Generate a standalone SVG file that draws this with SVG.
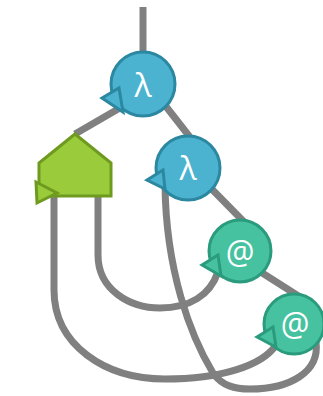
<svg xmlns="http://www.w3.org/2000/svg" width="323" height="396" viewBox="0 0 323 396">
<style>
.e{fill:none;stroke:#808080;stroke-width:7}
.lam circle,.lam polygon{fill:#4bb3cf;stroke:#2c88a1;stroke-width:3}
.app circle,.app polygon{fill:#47c2a1;stroke:#2b9b7d;stroke-width:3}
.ab polygon{fill:#9acb3a;stroke:#6e9a1f;stroke-width:3;stroke-linejoin:miter}
text{fill:#fff;font-family:"Open Sans","DejaVu Sans",sans-serif;font-size:32px;text-anchor:middle;dominant-baseline:central}
</style>
<g id="connectors">
<line class="e" x1="143" y1="7" x2="143" y2="60"/>
<line class="e" x1="125" y1="105" x2="75" y2="134"/>
<line class="e" x1="150" y1="86" x2="200" y2="150"/>
<line class="e" x1="195" y1="172" x2="250" y2="228"/>
<line class="e" x1="245" y1="262" x2="300" y2="297"/>
<path class="e" d="M98 192 L98 255 C98 290 130 308 160 308 C190 308 210 295 218 272"/>
<path class="e" d="M54 192 L54 290 C54 345 105 379 165 379 C220 379 262 366 276 345"/>
<path class="e" d="M165 185 C166 270 190 335 213 373 C222 386 235 389 250 389 C290 389 320 372 316 342"/>
</g>
<g id="node-abs" class="ab">
<polygon points="75,134 39,163 39,196 111,196 111,163"/>
<polygon points="36,182 57,193 37,203"/>
</g>
<g id="node-lam1" class="lam">
<circle cx="143" cy="84" r="32"/>
<polygon points="102,98 119,88 123,112"/>
<text x="143" y="84">λ</text>
</g>
<g id="node-lam2" class="lam">
<circle cx="188" cy="168" r="32"/>
<polygon points="147,180 163,170 165,189"/>
<text x="188" y="167">λ</text>
</g>
<g id="node-app1" class="app">
<circle cx="240" cy="251" r="31"/>
<polygon points="202,265 218,255 221,276"/>
<text x="240" y="251">@</text>
</g>
<g id="node-app2" class="app">
<circle cx="294" cy="324" r="30"/>
<polygon points="257,337 273,327 276,347"/>
<text x="295" y="323">@</text>
</g>
</svg>
